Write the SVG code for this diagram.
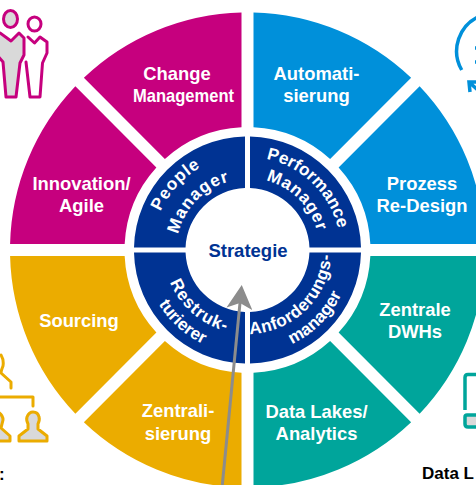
<svg xmlns="http://www.w3.org/2000/svg" width="476" height="485" viewBox="0 0 476 485">
<style>
text{font-family:"Liberation Sans",Arial,sans-serif;font-weight:700}
.l{fill:#fff;font-size:18.400px;text-anchor:middle}
.c{fill:#fff;font-size:17.200px;text-anchor:middle}
.ring{fill:#003393}
.mag{fill:#C6007E}.blu{fill:#0090DA}.tea{fill:#00A59B}.gol{fill:#EBAC00}
.ic{stroke-width:3;stroke-linejoin:round;stroke-linecap:round}
.k{fill:#000;font-size:17px}
</style>
<defs>
<path id="p1" d="M152.5,250A95,95 0 0 1 247.5,155"/>
<path id="p2" d="M176.5,250A71,71 0 0 1 247.5,179"/>
<path id="p3" d="M247.5,157A93,93 0 0 1 340.5,250"/>
<path id="p4" d="M247.5,178A72,72 0 0 1 319.5,250"/>
<path id="p5" d="M163.8,257.3A84,84 0 0 0 254.8,333.7"/>
<path id="p6" d="M143.6,255.4A104,104 0 0 0 252.9,353.9"/>
<path id="p7" d="M247.5,334A84,84 0 0 0 331.5,250"/>
<path id="p8" d="M247.5,354A104,104 0 0 0 351.5,250"/>
<marker id="ah" markerUnits="userSpaceOnUse" markerWidth="24" markerHeight="26" viewBox="0 0 24 26" refX="6" refY="13" orient="auto"><path d="M0,0L24,13L0,26L6,13Z" fill="#8C8C8C"/></marker>
</defs>

<g id="change-management"><path class="mag" d="M241.5,12.58A237.5,237.5 0 0 0 83.87,77.87L164.88,158.88A123,123 0 0 1 241.5,127.15Z"/><text class="l" x="177" y="80">Change</text><text class="l" x="183.500" y="102" textLength="101" lengthAdjust="spacingAndGlyphs">Management</text></g>
<g id="innovation-agile"><path class="mag" d="M10.08,244A237.5,237.5 0 0 1 75.37,86.37L156.38,167.38A123,123 0 0 0 124.65,244Z"/><text class="l" x="81.500" y="190">Innovation/</text><text class="l" x="81.500" y="212">Agile</text></g>
<g id="automatisierung"><path class="blu" d="M253.5,12.58A237.5,237.5 0 0 1 411.13,77.87L330.12,158.88A123,123 0 0 0 253.5,127.15Z"/><text class="l" x="316.500" y="80">Automati-</text><text class="l" x="316.500" y="102">sierung</text></g>
<g id="prozess-redesign"><path class="blu" d="M484.92,244A237.5,237.5 0 0 0 419.63,86.37L338.62,167.38A123,123 0 0 1 370.35,244Z"/><text class="l" x="422" y="190">Prozess</text><text class="l" x="422" y="212">Re-Design</text></g>
<g id="zentrale-dwhs"><path class="tea" d="M484.92,256A237.5,237.5 0 0 1 419.63,413.63L338.62,332.62A123,123 0 0 0 370.35,256Z"/><text class="l" x="415" y="316">Zentrale</text><text class="l" x="415" y="338">DWHs</text></g>
<g id="data-lakes"><path class="tea" d="M253.5,487.42A237.5,237.5 0 0 0 411.13,422.13L330.12,341.12A123,123 0 0 1 253.5,372.85Z"/><text class="l" x="316.500" y="418">Data Lakes/</text><text class="l" x="316.500" y="440">Analytics</text></g>
<g id="zentralisierung"><path class="gol" d="M241.5,487.42A237.5,237.5 0 0 1 83.87,422.13L164.88,341.12A123,123 0 0 0 241.5,372.85Z"/><text class="l" x="178" y="417">Zentrali-</text><text class="l" x="178" y="440">sierung</text></g>
<g id="sourcing"><path class="gol" d="M10.08,256A237.5,237.5 0 0 0 75.37,413.63L156.38,332.62A123,123 0 0 1 124.65,256Z"/><text class="l" x="79" y="327">Sourcing</text></g>

<g id="people-manager"><path class="ring" d="M134,247.5A113.500,113.500 0 0 1 245,136.530L245,188.050A62,62 0 0 0 185.550,247.500Z"/><text class="c" letter-spacing=".8"><textPath href="#p1" startOffset="47%">People</textPath></text><text class="c" letter-spacing="1"><textPath href="#p2" startOffset="49%">Manager</textPath></text></g>
<g id="performance-manager"><path class="ring" d="M361,247.5A113.500,113.500 0 0 0 250,136.530L250,188.050A62,62 0 0 1 309.450,247.500Z"/><text class="c"><textPath href="#p3" startOffset="49%">Performance</textPath></text><text class="c" letter-spacing=".7"><textPath href="#p4" startOffset="50%">Manager</textPath></text></g>
<g id="restrukturierer"><path class="ring" d="M134,252.5A113.500,113.500 0 0 0 245,363.470L245,311.950A62,62 0 0 1 185.550,252.500Z"/><text class="c" letter-spacing="1"><textPath href="#p5" startOffset="49%">Restruk-</textPath></text><text class="c"><textPath href="#p6" startOffset="50%">turierer</textPath></text></g>
<g id="anforderungsmanager"><path class="ring" d="M361,252.5A113.500,113.500 0 0 1 250,363.470L250,311.950A62,62 0 0 0 309.450,252.500Z"/><text class="c" letter-spacing=".4"><textPath href="#p7" startOffset="49%">Anforderungs-</textPath></text><text class="c"><textPath href="#p8" startOffset="50%">manager</textPath></text></g>
<g id="strategie"><text x="248" y="257" font-size="18.500" fill="#003393" text-anchor="middle">Strategie</text></g>

<g id="icon-people" class="ic" stroke="#C6007E">
<ellipse cx="10.5" cy="19" rx="7" ry="8.500" fill="#D9D9D9"/>
<path fill="#D9D9D9" d="M-5,35L0,33L11,41L19,33L24,38L24,55L20,63L16,97L6,97L3,62L-3,55Z"/>
<ellipse cx="34.500" cy="24" rx="6.500" ry="7" fill="#fff"/>
<path fill="#fff" d="M28,37L34.500,43L40,37L47,42L47,53L42.500,63L40,97L30,97L26,62"/>
</g>
<g id="icon-hierarchy" class="ic" stroke="#EBAC00" fill="none">
<path d="M1,355Q4,360 3,366Q1,371 1,373L11,382L11,388"/>
<path d="M0,397L33,397L33,406"/>
<path fill="#D9D9D9" d="M19,441L19,436L28,429L28,424Q26,420 27,417Q29,412 33,412Q38,412 39,417Q40,420 38,424L38,429L47,436L47,441Z"/>
<path fill="#D9D9D9" d="M-2,412Q3,415 3,420L1,428L10,436L10,441L-2,441Z"/>
</g>
<g id="icon-cycle" fill="none" stroke="#0090DA" stroke-width="3.500">
<path d="M461.700,70A38,38 0 0 1 480,16"/>
<path d="M475,48L479,48M475,62L479,62"/>
<path d="M478,82L469,82L470,92M469,82L480,92"/>
</g>
<g id="icon-device" stroke="#00A59B" stroke-width="3.500">
<path fill="none" d="M480,374.500L468,374.500Q465,374.500 465,377.500L465,410"/>
<path fill="#D9D9D9" d="M480,415L467,415Q465,415 465,417L465,424Q465,427 468,427L480,427"/>
</g>

<text class="k" x="-1" y="480">:</text>
<text class="k" x="422" y="479">Data L</text>

<g id="connectors"><line x1="222.300" y1="485" x2="240" y2="302.900" stroke="#8C8C8C" stroke-width="3" marker-end="url(#ah)"/></g>
</svg>
